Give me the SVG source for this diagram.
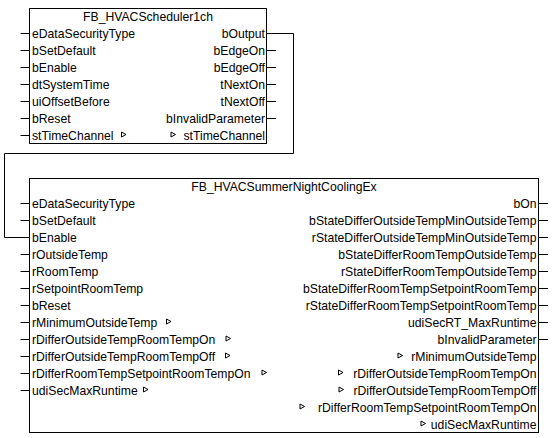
<svg xmlns="http://www.w3.org/2000/svg" xmlns:xlink="http://www.w3.org/1999/xlink" width="552" height="438" viewBox="0 0 552 438">
<style>
text{font-family:"Liberation Sans",Arial,sans-serif;font-size:12.2px;fill:#000}
.r{text-anchor:end}
.m{text-anchor:middle}
.box{fill:#fff;stroke:#000;stroke-width:1}
.pin{stroke:#000;stroke-width:1;fill:none}
.wire{stroke:#000;stroke-width:1;fill:none}
</style>
<defs>
<path id="tri" d="M0,-2.5 L4.5,0 L0,2.5 Z" fill="#fff" stroke="#000" stroke-width="1"/>
</defs>
<rect width="552" height="438" fill="#fff"/>

<g id="connectors">
<polyline class="wire" points="266.5,33.5 293.5,33.5 293.5,153.5 4.5,153.5 4.5,237.5 29.5,237.5"/>
</g>

<g id="FB_HVACScheduler1ch">
<rect class="box" x="29.5" y="8.5" width="237" height="135"/>
<text class="m" x="148" y="21">FB_HVACScheduler1ch</text>
<path class="pin" d="M20.5,33.5H29.5M20.5,50.5H29.5M20.5,67.5H29.5M20.5,84.5H29.5M20.5,101.5H29.5M20.5,118.5H29.5M20.5,135.5H29.5"/>
<path class="pin" d="M266.5,50.5H276M266.5,67.5H276M266.5,84.5H276M266.5,101.5H276M266.5,118.5H276"/>
<text x="32" y="38">eDataSecurityType</text>
<text x="32" y="55">bSetDefault</text>
<text x="32" y="72">bEnable</text>
<text x="32" y="89">dtSystemTime</text>
<text x="32" y="106">uiOffsetBefore</text>
<text x="32" y="123">bReset</text>
<text x="32" y="140">stTimeChannel</text>
<use xlink:href="#tri" x="121.5" y="134.5"/>
<text class="r" x="265" y="38">bOutput</text>
<text class="r" x="265" y="55">bEdgeOn</text>
<text class="r" x="265" y="72">bEdgeOff</text>
<text class="r" x="265" y="89">tNextOn</text>
<text class="r" x="265" y="106">tNextOff</text>
<text class="r" x="265" y="123">bInvalidParameter</text>
<text class="r" x="265" y="140">stTimeChannel</text>
<use xlink:href="#tri" x="171" y="134.5"/>
</g>

<g id="FB_HVACSummerNightCoolingEx">
<rect class="box" x="29.5" y="178.5" width="509" height="254"/>
<text class="m" x="284" y="191">FB_HVACSummerNightCoolingEx</text>
<path class="pin" d="M20.5,203.5H29.5M20.5,220.5H29.5M20.5,254.5H29.5M20.5,271.5H29.5M20.5,288.5H29.5M20.5,305.5H29.5M20.5,322.5H29.5M20.5,339.5H29.5M20.5,356.5H29.5M20.5,373.5H29.5M20.5,390.5H29.5"/>
<path class="pin" d="M538.5,203.5H548M538.5,220.5H548M538.5,237.5H548M538.5,254.5H548M538.5,271.5H548M538.5,288.5H548M538.5,305.5H548M538.5,322.5H548M538.5,339.5H548"/>
<text x="32" y="208">eDataSecurityType</text>
<text x="32" y="225">bSetDefault</text>
<text x="32" y="242">bEnable</text>
<text x="32" y="259">rOutsideTemp</text>
<text x="32" y="276">rRoomTemp</text>
<text x="32" y="293">rSetpointRoomTemp</text>
<text x="32" y="310">bReset</text>
<text x="32" y="327">rMinimumOutsideTemp</text>
<text x="32" y="344">rDifferOutsideTempRoomTempOn</text>
<text x="32" y="361">rDifferOutsideTempRoomTempOff</text>
<text x="32" y="378">rDifferRoomTempSetpointRoomTempOn</text>
<text x="32" y="395">udiSecMaxRuntime</text>
<use xlink:href="#tri" x="166.5" y="321.5"/>
<use xlink:href="#tri" x="226" y="338.5"/>
<use xlink:href="#tri" x="225.5" y="355.5"/>
<use xlink:href="#tri" x="262" y="372.5"/>
<use xlink:href="#tri" x="143.5" y="389.5"/>
<text class="r" x="536.5" y="208">bOn</text>
<text class="r" x="536.5" y="225">bStateDifferOutsideTempMinOutsideTemp</text>
<text class="r" x="536.5" y="242">rStateDifferOutsideTempMinOutsideTemp</text>
<text class="r" x="536.5" y="259">bStateDifferRoomTempOutsideTemp</text>
<text class="r" x="536.5" y="276">rStateDifferRoomTempOutsideTemp</text>
<text class="r" x="536.5" y="293">bStateDifferRoomTempSetpointRoomTemp</text>
<text class="r" x="536.5" y="310">rStateDifferRoomTempSetpointRoomTemp</text>
<text class="r" x="536.5" y="327">udiSecRT_MaxRuntime</text>
<text class="r" x="536.5" y="344">bInvalidParameter</text>
<text class="r" x="536.5" y="361">rMinimumOutsideTemp</text>
<text class="r" x="536.5" y="378">rDifferOutsideTempRoomTempOn</text>
<text class="r" x="536.5" y="395">rDifferOutsideTempRoomTempOff</text>
<text class="r" x="536.5" y="412">rDifferRoomTempSetpointRoomTempOn</text>
<text class="r" x="536.5" y="429">udiSecMaxRuntime</text>
<use xlink:href="#tri" x="398" y="355.5"/>
<use xlink:href="#tri" x="338.5" y="372.5"/>
<use xlink:href="#tri" x="339" y="389.5"/>
<use xlink:href="#tri" x="300" y="406.5"/>
<use xlink:href="#tri" x="421" y="423.5"/>
</g>
</svg>
